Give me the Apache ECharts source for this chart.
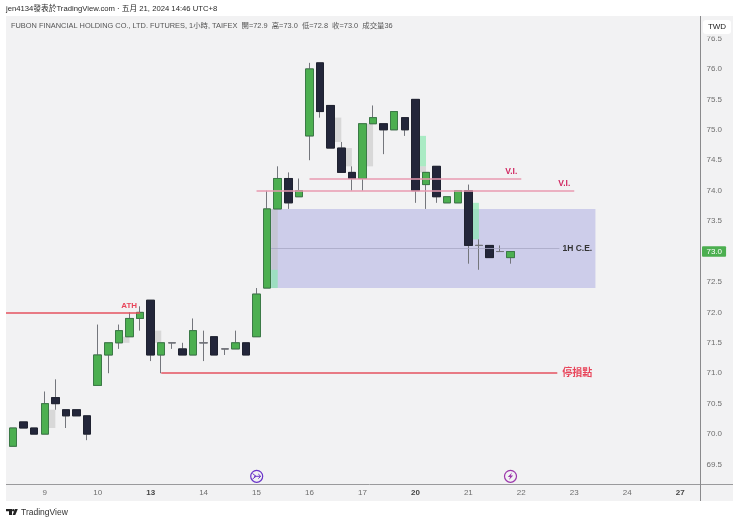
<!DOCTYPE html>
<html>
<head>
<meta charset="utf-8">
<title>FUBON FINANCIAL HOLDING CO., LTD. FUTURES</title>
<style>
    html, body { margin: 0; padding: 0; background: #fff; }
    #chart { width: 740px; height: 523px; }
</style>
<script src="https://cdn.jsdelivr.net/npm/echarts@6/dist/echarts.min.js"></script>
</head>
<body>
<div id="chart"></div>
<script>
/* 每根 K 棒的開高低收 */
let opens = [69.8, 70.2, 70.1, 70.0, 70.6, 70.4, 70.4, 70.3, 70.8, 71.3,
    71.5, 71.6, 71.9, 72.2, 71.3, 71.5, 71.4, 71.3, 71.5, 71.6,
    71.4, 71.4, 71.5, 71.6, 72.4, 73.7, 74.2, 73.9, 74.9, 76.1,
    75.4, 74.7, 74.3, 74.2, 75.1, 75.1, 75.0, 75.2, 75.5, 74.1,
    74.4, 73.8, 73.8, 74.0, 73.1, 73.1, 73.0, 72.9];
let closes = [70.1, 70.1, 70.0, 70.5, 70.5, 70.3, 70.3, 70.0, 71.3, 71.5,
    71.7, 71.9, 72.0, 71.3, 71.5, 71.5, 71.3, 71.7, 71.5, 71.3,
    71.4, 71.5, 71.3, 72.3, 73.7, 74.2, 73.8, 74.0, 76.0, 75.3,
    74.7, 74.3, 74.2, 75.1, 75.2, 75.0, 75.3, 75.0, 74.0, 74.3,
    73.9, 73.9, 74.0, 73.1, 73.1, 72.9, 73.0, 73.0];
let lows = [69.8, 70.1, 70.0, 70.0, 70.4, 70.1, 70.3, 69.9, 70.8, 71.0,
    71.4, 71.6, 71.7, 71.2, 71.0, 71.4, 71.3, 71.3, 71.2, 71.3,
    71.3, 71.4, 71.3, 71.6, 72.4, 73.7, 73.7, 73.9, 74.5, 75.2,
    74.7, 74.3, 74.0, 74.0, 75.1, 74.6, 75.0, 74.9, 73.8, 73.7,
    73.8, 73.8, 73.8, 72.8, 72.7, 72.9, 73.0, 72.8];
let highs = [70.1, 70.2, 70.1, 70.7, 70.9, 70.4, 70.4, 70.3, 71.8, 71.5,
    71.8, 72.0, 72.1, 72.2, 71.5, 71.5, 71.5, 71.9, 71.7, 71.6,
    71.4, 71.7, 71.5, 72.4, 74.0, 74.4, 74.3, 74.2, 76.1, 76.1,
    75.4, 74.8, 74.4, 75.1, 75.4, 75.1, 75.3, 75.2, 75.5, 74.3,
    74.4, 73.9, 74.0, 74.1, 73.2, 73.1, 73.1, 73.0];

/* 時間軸 */
let dayTicks = [3, 8, 13, 18, 23, 28, 33, 38, 43, 48, 53, 58, 63];
let dayLabels = ['9', '10', '13', '14', '15', '16', '17', '20', '21', '22', '23', '24', '27'];
let boldDays = ['13', '20', '27'];

/* 價格軸 */
let priceTicks = [69.5, 70.0, 70.5, 71.0, 71.5, 72.0, 72.5, 73.0, 73.5, 74.0, 74.5, 75.0, 75.5, 76.0, 76.5];
let lastPrice = 73.0;

/* 失衡區: [K 棒序號, 下緣, 上緣] */
let greyZones = [[3, 70.1, 70.4], [10, 71.5, 71.6], [13, 71.5, 71.7], [24, 72.7, 73.7],
    [30, 74.8, 75.2], [31, 74.4, 74.7], [33, 74.4, 75.1], [38, 74.3, 74.4]];
let greenZones = [[24, 72.4, 72.7], [38, 74.4, 74.9], [43, 73.2, 73.8]];
/* 1H 區塊: [起, 迄, 下緣, 上緣] */
let blockZone = [24.38, 55, 72.4, 73.7];

/* 水平線: [起, 迄, 價格] */
let athLine = [-0.66, 12, 72.0];
let stopLine = [14, 51.4, 71.0];
let viLines = [[28, 48, 74.2], [23, 53, 74.0]];
let ceLine = [24.38, 51.6, 73.05];

let xMin = -0.66, xMax = 64.97;
let yMin = 69.18, yMax = 76.87;

let wickData = [], bodyData = [];
opens.forEach(function (open, i) {
    wickData.push([i, open, closes[i], lows[i], highs[i]]);
    bodyData.push([i, open, closes[i], Math.min(open, closes[i]), Math.max(open, closes[i])]);
});

let textFont = '"Liberation Sans", "Noto Sans CJK TC", sans-serif';

let zoneArea = function (zone) {
    return [{ xAxis: zone[0] + 0.38, yAxis: zone[1] }, { xAxis: zone[0] + 1, yAxis: zone[2] }];
};
let hLine = function (line, color, width, label) {
    return [
        { xAxis: line[0], yAxis: line[2], lineStyle: { color: color, width: width, type: 'solid' }, label: label },
        { xAxis: line[1], yAxis: line[2] }
    ];
};
let lineLabel = function (text, color, size, position, gap, padRight) {
    return {
        show: true, formatter: text, position: position, color: color, fontSize: size,
        fontWeight: 'bold', fontFamily: textFont, distance: gap,
        padding: [0, padRight, 0, 0]
    };
};

let myChart = echarts.init(document.getElementById('chart'), null, { renderer: 'canvas' });

let options = {
    animation: false,
    backgroundColor: '#ffffff',
    title: [
        {
            text: 'jen4134發表於TradingView.com · 五月 21, 2024 14:46 UTC+8',
            left: 6, top: 5, padding: 0,
            textStyle: { fontSize: 7.7, fontWeight: 'normal', color: '#2a2a2a', fontFamily: textFont }
        },
        {
            text: 'FUBON FINANCIAL HOLDING CO., LTD. FUTURES, 1小時, TAIFEX  開=72.9  高=73.0  低=72.8  收=73.0  成交量36',
            left: 11, top: 22, padding: 0,
            textStyle: { fontSize: 7.4, fontWeight: 'normal', color: '#555', fontFamily: textFont }
        }
    ],
    grid: { left: 6, top: 16, width: 695, height: 468, containLabel: false },
    xAxis: {
        type: 'value', min: xMin, max: xMax,
        splitLine: { show: false },
        axisLine: { show: false },
        axisTick: { show: false },
        axisLabel: {
            customValues: dayTicks,
            margin: 5,
            color: '#6e6e6e',
            fontSize: 8,
            fontFamily: textFont,
            formatter: function (value) {
                let day = dayLabels[dayTicks.indexOf(value)];
                return boldDays.indexOf(day) >= 0 ? '{b|' + day + '}' : day;
            },
            rich: { b: { fontWeight: 'bold', color: '#444', fontSize: 8, fontFamily: textFont } }
        }
    },
    yAxis: {
        type: 'value', position: 'right', min: yMin, max: yMax,
        splitLine: { show: false },
        axisLine: { show: false },
        axisTick: { show: false },
        axisLabel: {
            customValues: priceTicks,
            margin: 1,
            fontFamily: textFont,
            formatter: function (value) {
                return (value === lastPrice ? '{tag|' : '{n|') + value.toFixed(1) + '}';
            },
            rich: {
                n: { color: '#6e6e6e', fontSize: 8, padding: [0, 0, 0, 4.5], fontFamily: textFont },
                tag: {
                    color: '#ffffff', fontSize: 8, backgroundColor: '#4caf50', borderRadius: 1,
                    padding: [1.5, 4, 1, 4.5], fontFamily: textFont
                }
            }
        }
    },
    series: [
        {
            name: 'zones', type: 'line', data: [], z: 1, silent: true,
            markArea: {
                silent: true,
                data: [[
                    { xAxis: blockZone[0], yAxis: blockZone[2], itemStyle: { color: '#cdcdea' } },
                    { xAxis: blockZone[1], yAxis: blockZone[3] }
                ]]
            }
        },
        {
            name: 'grey', type: 'line', data: [], z: 1, silent: true,
            markArea: {
                silent: true,
                itemStyle: { color: 'rgba(190,190,190,0.5)' },
                data: greyZones.map(zoneArea)
            }
        },
        {
            name: 'green', type: 'line', data: [], z: 1, silent: true,
            markArea: {
                silent: true,
                itemStyle: { color: 'rgba(130,230,170,0.65)' },
                data: greenZones.map(zoneArea)
            }
        },
        {
            name: 'lines', type: 'line', data: [], z: 2, silent: true,
            markLine: {
                silent: true, symbol: 'none', animation: false,
                data: [
                    hLine(athLine, '#e4525f', 1.5, lineLabel('ATH', '#e8455a', 8, 'insideEndTop', 3, 0)),
                    hLine(stopLine, '#e4525f', 1.5, lineLabel('停損點', '#e8455a', 10, 'end', 5, 0)),
                    hLine(viLines[0], '#e89ab0', 1.5, lineLabel('V.I.', '#d12a63', 8.5, 'insideEndTop', 3, 1)),
                    hLine(viLines[1], '#e89ab0', 1.5, lineLabel('V.I.', '#d12a63', 8.5, 'insideEndTop', 3, 1)),
                    hLine(ceLine, '#a7a7c4', 0.8, lineLabel('1H C.E.', '#333', 8.5, 'end', 3, 0))
                ]
            }
        },
        {
            name: 'wick', type: 'candlestick', data: wickData, barWidth: 8, z: 3, silent: true,
            itemStyle: {
                color: '#4caf50', color0: '#23263a',
                borderColor: '#74767c', borderColor0: '#74767c', borderColorDoji: '#74767c', borderWidth: 1
            }
        },
        {
            name: 'body', type: 'candlestick', data: bodyData, barWidth: 8, z: 4, silent: true,
            itemStyle: {
                color: '#4caf50', color0: '#23263a',
                borderColor: '#3b7a46', borderColor0: '#1f2230', borderColorDoji: '#74767c', borderWidth: 1
            }
        }
    ],
    graphic: [
        /* 面板與框線 */
        { type: 'rect', z: -10, silent: true, shape: { x: 6, y: 16, width: 727, height: 485 }, style: { fill: '#f2f2f3' } },
        { type: 'line', z: 10, silent: true, shape: { x1: 6, y1: 484.5, x2: 733, y2: 484.5 }, style: { stroke: '#9a9a9c', lineWidth: 1 } },
        { type: 'line', z: 10, silent: true, shape: { x1: 700.5, y1: 16, x2: 700.5, y2: 501 }, style: { stroke: '#8a8a8c', lineWidth: 1 } },
        /* 幣別 */
        { type: 'rect', z: 19, silent: true, shape: { x: 703, y: 33, width: 28, height: 3.5 }, style: { fill: '#f2f2f3' } },
        { type: 'rect', z: 20, silent: true, shape: { x: 703, y: 20, width: 28, height: 14, r: 3 }, style: { fill: '#ffffff' } },
        {
            type: 'text', z: 21, silent: true, x: 717, y: 27,
            style: { text: 'TWD', fill: '#222', font: '8px ' + textFont, align: 'center', verticalAlign: 'middle' }
        },
        /* 事件圖示 */
        { type: 'circle', z: 20, silent: true, shape: { cx: 256.7, cy: 476.3, r: 6 }, style: { fill: '#f2f2f3', stroke: '#6a35c9', lineWidth: 1.2 } },
        { type: 'polyline', z: 21, silent: true, shape: { points: [[252.5, 473.5], [256, 476.3], [252.5, 479.1]] }, style: { fill: 'none', stroke: '#6a35c9', lineWidth: 1 } },
        { type: 'polyline', z: 21, silent: true, shape: { points: [[254, 476.3], [260.5, 476.3]] }, style: { stroke: '#6a35c9', lineWidth: 1 } },
        { type: 'polyline', z: 21, silent: true, shape: { points: [[258.3, 474], [260.7, 476.3], [258.3, 478.6]] }, style: { fill: 'none', stroke: '#6a35c9', lineWidth: 1 } },
        { type: 'circle', z: 20, silent: true, shape: { cx: 510.5, cy: 476.3, r: 6 }, style: { fill: '#f2f2f3', stroke: '#9c37ab', lineWidth: 1.2 } },
        {
            type: 'polygon', z: 21, silent: true,
            shape: { points: [[512, 472.5], [507.8, 477], [510.2, 477], [509, 480], [513.2, 475.5], [510.8, 475.5]] },
            style: { fill: '#9c37ab' }
        },
        /* TradingView 標誌 */
        { type: 'polygon', z: 20, silent: true, shape: { points: [[6, 509], [12, 509], [12, 515], [9, 515], [9, 511.2], [6, 511.2]] }, style: { fill: '#222' } },
        { type: 'circle', z: 20, silent: true, shape: { cx: 13.3, cy: 510.2, r: 1.2 }, style: { fill: '#222' } },
        { type: 'polygon', z: 20, silent: true, shape: { points: [[15, 509], [17.8, 509], [15.3, 515], [12.6, 515]] }, style: { fill: '#222' } },
        {
            type: 'text', z: 20, silent: true, x: 21, y: 513,
            style: { text: 'TradingView', fill: '#333', font: '8.5px ' + textFont, align: 'left', verticalAlign: 'middle' }
        }
    ]
};
myChart.setOption(options);
</script>
</body>
</html>
